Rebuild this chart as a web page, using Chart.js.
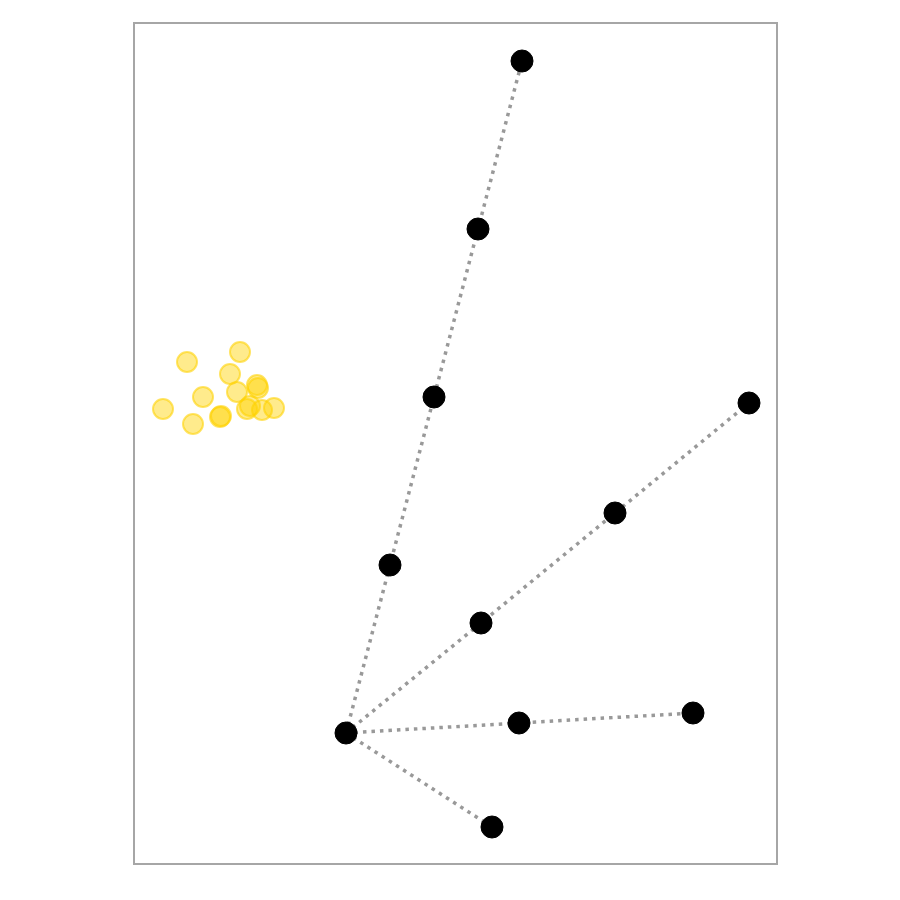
<!DOCTYPE html>
<html>
<head>
<meta charset="utf-8">
<script src="https://cdn.jsdelivr.net/npm/chart.js@4/dist/chart.umd.min.js"></script>
<style>
html,body{margin:0;padding:0;background:#fff;}
#wrap{width:900px;height:900px;}
</style>
</head>
<body>
<div id="wrap"><canvas id="c" width="900" height="900"></canvas></div>
<script>
// Data (origin at the hub point)
const origin = {x: 0, y: 0};
const armUp = [{x:0.44,y:1.68},{x:0.88,y:3.36},{x:1.32,y:5.04},{x:1.76,y:6.72}];
const armDiag = [{x:1.35,y:1.10},{x:2.69,y:2.20},{x:4.03,y:3.30}];
const armFlat = [{x:1.73,y:0.10},{x:3.47,y:0.20}];
const armDown = [{x:1.46,y:-0.94}];
const clusterX = [-1.59,-1.06,-1.16,-1.43,-1.83,-1.53,-1.26,-1.25,-1.09,-0.89,-0.88,-0.99,-0.96,-0.84,-0.72];
const clusterY = [3.71,3.81,3.59,3.36,3.24,3.09,3.16,3.17,3.41,3.48,3.45,3.24,3.27,3.23,3.25];
const xRange = [-2.12, 4.31];
const yRange = [-1.31, 7.10];

const cluster = clusterX.map((x,i)=>({x, y: clusterY[i]}));

function arm(pts){
  return {
    data: [origin, ...pts],
    showLine: true,
    borderColor: '#999999',
    borderWidth: 3.5,
    borderDash: [3.5,5],
    pointRadius: 0,
    pointHoverRadius: 0,
    fill: false,
    clip: false,
    order: 3
  };
}

const blackPts = [origin, ...armUp, ...armDiag, ...armFlat, ...armDown];

const framePlugin = {
  id: 'frame',
  afterDraw(chart){
    const {ctx, chartArea:a} = chart;
    ctx.save();
    ctx.strokeStyle = '#a6a6a6';
    ctx.lineWidth = 2;
    ctx.strokeRect(a.left, a.top, a.right - a.left, a.bottom - a.top);
    ctx.restore();
  }
};

new Chart(document.getElementById('c'), {
  type: 'scatter',
  data: {
    datasets: [
      {
        data: cluster,
        backgroundColor: 'rgba(255,210,0,0.45)',
        borderColor: 'rgba(255,210,0,0.6)',
        borderWidth: 2,
        pointRadius: 10,
        pointHoverRadius: 10,
        clip: false,
        order: 4
      },
      arm(armUp), arm(armDiag), arm(armFlat), arm(armDown),
      {
        data: blackPts,
        backgroundColor: '#000000',
        borderColor: '#000000',
        borderWidth: 1,
        pointRadius: 11,
        pointHoverRadius: 11,
        clip: false,
        order: 1
      }
    ]
  },
  options: {
    responsive: false,
    animation: false,
    events: [],
    layout: {padding: {left: 134, right: 123, top: 23, bottom: 36}},
    plugins: {legend: {display: false}, tooltip: {enabled: false}},
    scales: {
      x: {type: 'linear', min: xRange[0], max: xRange[1], display: false},
      y: {type: 'linear', min: yRange[0], max: yRange[1], display: false}
    }
  },
  plugins: [framePlugin]
});
</script>
</body>
</html>
